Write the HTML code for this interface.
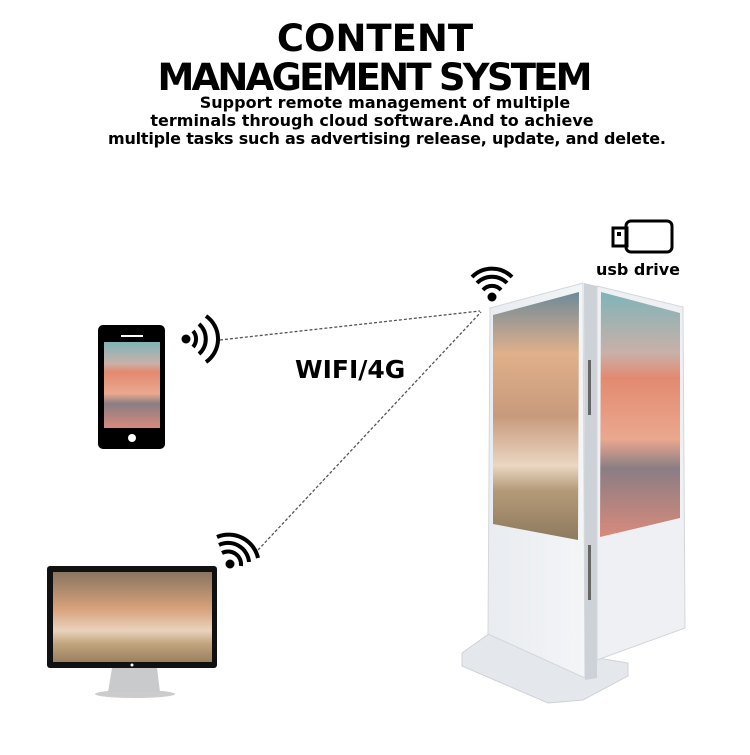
<!DOCTYPE html>
<html><head><meta charset="utf-8"><style>
body{margin:0;background:#fff;width:750px;height:750px;overflow:hidden}
svg text{font-family:"DejaVu Sans","Liberation Sans",sans-serif;font-weight:bold;fill:#000}
</style></head><body>
<svg width="750" height="750" viewBox="0 0 750 750">
<defs>
<linearGradient id="sky1" x1="0" y1="0" x2="0" y2="1">
<stop offset="0" stop-color="#6e8a9a"/><stop offset="0.25" stop-color="#e0b08a"/><stop offset="0.5" stop-color="#c89a7c"/><stop offset="0.7" stop-color="#ead6c2"/><stop offset="0.8" stop-color="#b49a78"/><stop offset="1" stop-color="#8e7a5e"/></linearGradient>
<linearGradient id="sky2" x1="0" y1="0" x2="0" y2="1">
<stop offset="0" stop-color="#7fb4b8"/><stop offset="0.25" stop-color="#c9b0a8"/><stop offset="0.35" stop-color="#e28a70"/><stop offset="0.6" stop-color="#eaa88e"/><stop offset="0.72" stop-color="#8a7d84"/><stop offset="1" stop-color="#d98a7c"/></linearGradient>
<linearGradient id="sky3" x1="0" y1="0" x2="0" y2="1">
<stop offset="0" stop-color="#8a7560"/><stop offset="0.4" stop-color="#d6a07a"/><stop offset="0.65" stop-color="#e9d3bd"/><stop offset="0.8" stop-color="#c0a47c"/><stop offset="1" stop-color="#9a8060"/></linearGradient>
<linearGradient id="panel" x1="0" y1="0" x2="1" y2="0"><stop offset="0" stop-color="#e9ecf0"/><stop offset="1" stop-color="#f3f5f7"/></linearGradient>
</defs>
<text x="375" y="51" font-size="37" text-anchor="middle">CONTENT</text>
<text x="375" y="90" font-size="37" text-anchor="middle" textLength="435">MANAGEMENT SYSTEM</text>
<text x="385" y="108" font-size="16" text-anchor="middle">Support remote management of multiple</text>
<text x="372" y="126" font-size="16" text-anchor="middle">terminals through cloud software.And to achieve</text>
<text x="387" y="144" font-size="16" text-anchor="middle" textLength="558">multiple tasks such as advertising release, update, and delete.</text>

<rect x="626" y="221" width="46" height="31" rx="5" fill="none" stroke="#000" stroke-width="3"/>
<rect x="613" y="228" width="14" height="18" fill="none" stroke="#000" stroke-width="3"/>
<rect x="617" y="232" width="4" height="4" fill="#000"/>
<text x="638" y="275" font-size="16" text-anchor="middle">usb drive</text>

<line x1="220" y1="340" x2="480" y2="311" stroke="#555" stroke-width="1.3" stroke-dasharray="3,2"/>
<line x1="258" y1="550" x2="481" y2="312" stroke="#555" stroke-width="1.3" stroke-dasharray="3,2"/>
<text x="295" y="378" font-size="25">WIFI/4G</text>

<rect x="98" y="325" width="67" height="124" rx="5" fill="#000"/>
<rect x="104" y="342" width="56" height="86" fill="url(#sky2)"/>
<rect x="121" y="335" width="22" height="2" fill="#fff"/>
<circle cx="132" cy="438" r="4" fill="#fff"/>
<circle cx="186" cy="339" r="4.5" fill="#000"/>
<path d="M193 331 A12 12 0 0 1 193 347" fill="none" stroke="#000" stroke-width="4"/>
<path d="M199 324 A20 20 0 0 1 199 354" fill="none" stroke="#000" stroke-width="4"/>
<path d="M206 316 A28 28 0 0 1 206 362" fill="none" stroke="#000" stroke-width="4"/>

<circle cx="230" cy="564" r="4.5" fill="#000"/>
<path d="M222 553 A13 13 0 0 1 241 566" fill="none" stroke="#000" stroke-width="4"/>
<path d="M219 545 A21 21 0 0 1 249 562" fill="none" stroke="#000" stroke-width="4"/>
<path d="M217 537 A30 30 0 0 1 258 558" fill="none" stroke="#000" stroke-width="4"/>

<ellipse cx="135" cy="694" rx="40" ry="4" fill="#ccc"/>
<polygon points="112,668 157,668 160,692 108,692" fill="#c9cacc"/>
<rect x="47" y="566" width="170" height="102" rx="3" fill="#111"/>
<rect x="53" y="572" width="159" height="90" fill="url(#sky3)"/>
<circle cx="132" cy="665" r="1.5" fill="#fff"/>

<circle cx="492" cy="297" r="4.5" fill="#000"/>
<path d="M483 290 A12 12 0 0 1 501 290" fill="none" stroke="#000" stroke-width="4"/>
<path d="M477 283 A21 21 0 0 1 507 283" fill="none" stroke="#000" stroke-width="4"/>
<path d="M472 277 A28 28 0 0 1 512 277" fill="none" stroke="#000" stroke-width="4"/>

<polygon points="462,653 490,633 580,655 628,663 628,676 583,700 548,703 462,666" fill="#e4e7eb" stroke="#cfd3d8"/>
<polygon points="490,308 583,283 585,678 488,634" fill="url(#panel)" stroke="#d3d7dc"/>
<polygon points="584,283 597,286 597,678 585,680" fill="#cdd2d8"/>
<polygon points="597,286 683,307 685,628 597,660" fill="#eef0f3" stroke="#d3d7dc"/>
<polygon points="493,315 579,292 578,540 493,524" fill="url(#sky1)"/>
<polygon points="601,292 680,313 680,518 600,537" fill="url(#sky2)"/>
<rect x="588" y="360" width="3" height="55" fill="#666"/>
<rect x="588" y="545" width="3" height="55" fill="#666"/>
</svg>
</body></html>
